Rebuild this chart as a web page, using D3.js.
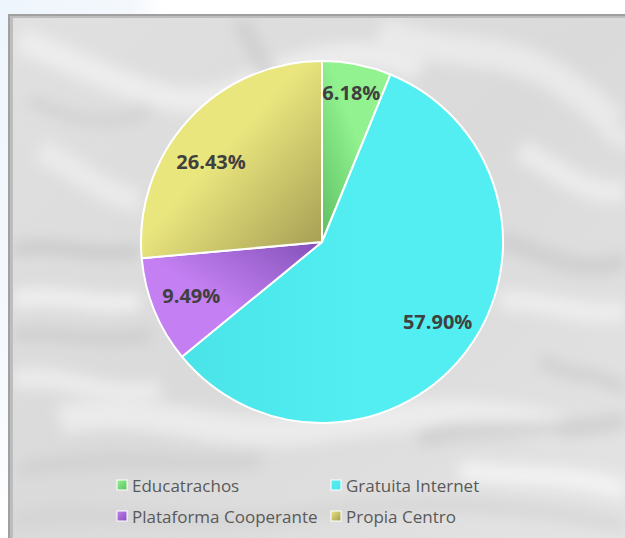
<!DOCTYPE html>
<html><head><meta charset="utf-8">
<script src="https://cdn.jsdelivr.net/npm/d3@7"></script>
<style>html,body{margin:0;padding:0;background:#fff;overflow:hidden}</style>
</head><body>
<svg id="c" width="625" height="538"></svg>
<script>
const categories = ["Educatrachos", "Gratuita Internet", "Plataforma Cooperante", "Propia Centro"];
const values = [6.18, 57.90, 9.49, 26.43];
const labels = ["6.18%", "57.90%", "9.49%", "26.43%"];
const colorsLight = ["#92f290", "#52eef2", "#c480f2", "#eae67e"];
const colorsDark = ["#5cbf62", "#4ae4e8", "#8250b8", "#a29a52"];

const svg = d3.select("#c");
const W = 625, H = 538;
const defs = svg.append("defs");

// page background hint (pale blue corner)
const pb = defs.append("linearGradient").attr("id","pb").attr("x1",0).attr("y1",0).attr("x2",0).attr("y2",1);
pb.append("stop").attr("offset",0).attr("stop-color","#eef5fc");
pb.append("stop").attr("offset",0.7).attr("stop-color","#f6f9fd");
pb.append("stop").attr("offset",1).attr("stop-color","#ffffff");
const pt = defs.append("linearGradient").attr("id","pt").attr("x1",0).attr("y1",0).attr("x2",1).attr("y2",0);
pt.append("stop").attr("offset",0).attr("stop-color","#eef5fc");
pt.append("stop").attr("offset",0.8).attr("stop-color","#f4f8fd");
pt.append("stop").attr("offset",1).attr("stop-color","#ffffff");
svg.append("rect").attr("x",0).attr("y",0).attr("width",165).attr("height",20).attr("fill","url(#pt)");
svg.append("rect").attr("x",0).attr("y",0).attr("width",10).attr("height",H).attr("fill","url(#pb)");

// frame shadow
const fx = 8, fy = 14;
svg.append("rect").attr("x",fx).attr("y",fy).attr("width",W-fx+10).attr("height",H-fy+10).attr("fill","#a0a0a0");
svg.append("rect").attr("x",fx+2).attr("y",fy+2).attr("width",W).attr("height",H).attr("fill","#bdbdbd");

// paper background
const bg = defs.append("linearGradient").attr("id","bg").attr("x1",0).attr("y1",0).attr("x2",1).attr("y2",1);
bg.append("stop").attr("offset",0).attr("stop-color","#e0e0e0");
bg.append("stop").attr("offset",0.5).attr("stop-color","#dadada");
bg.append("stop").attr("offset",1).attr("stop-color","#e4e4e4");
const ix = 13, iy = 18;
svg.append("rect").attr("x",ix).attr("y",iy).attr("width",W-ix).attr("height",H-iy).attr("fill","url(#bg)");

// crumple texture (decorative soft folds)
defs.append("filter").attr("id","blur").attr("filterUnits","userSpaceOnUse")
  .attr("x",-50).attr("y",-50).attr("width",W+100).attr("height",H+100)
  .append("feGaussianBlur").attr("stdDeviation",7);
defs.append("clipPath").attr("id","clipBg").append("rect").attr("x",ix).attr("y",iy).attr("width",W-ix).attr("height",H-iy);
const tex = svg.append("g").attr("clip-path","url(#clipBg)");
const folds = [
  {d:"M20,40 C120,80 180,120 240,90 S360,40 420,70", c:"#f0f0f0", w:26, o:0.8},
  {d:"M240,20 C270,80 300,120 280,170", c:"#c6c6c6", w:16, o:0.6},
  {d:"M380,30 C440,60 500,40 560,80 S620,140 625,130", c:"#efefef", w:30, o:0.7},
  {d:"M13,250 C60,240 90,260 140,250", c:"#c2c2c2", w:12, o:0.7},
  {d:"M13,300 C60,290 100,310 140,300", c:"#f4f4f4", w:18, o:0.8},
  {d:"M13,335 C60,330 90,345 150,335", c:"#c4c4c4", w:10, o:0.7},
  {d:"M500,240 C540,250 580,280 625,260", c:"#c6c6c6", w:18, o:0.6},
  {d:"M500,300 C550,300 590,320 625,310", c:"#f4f4f4", w:20, o:0.7},
  {d:"M60,420 C140,400 220,440 300,430 S460,400 560,430", c:"#f2f2f2", w:30, o:0.7},
  {d:"M20,470 C120,450 200,470 260,460", c:"#c8c8c8", w:14, o:0.5},
  {d:"M420,440 C480,420 540,440 625,420", c:"#c4c4c4", w:16, o:0.6},
  {d:"M460,470 C520,480 560,470 625,490", c:"#f6f6f6", w:20, o:0.8},
  {d:"M40,150 C80,170 110,200 140,200", c:"#efefef", w:24, o:0.7},
  {d:"M30,100 C70,120 110,130 150,110", c:"#c8c8c8", w:12, o:0.5},
  {d:"M520,150 C560,170 590,200 625,190", c:"#f2f2f2", w:22, o:0.7},
  {d:"M540,360 C570,380 600,370 625,390", c:"#c8c8c8", w:14, o:0.6},
  {d:"M13,380 C60,370 100,400 160,390", c:"#f2f2f2", w:20, o:0.7},
  {d:"M13,520 C100,505 200,530 300,515 S500,500 625,525", c:"#cecece", w:14, o:0.5}
];
tex.selectAll("path.fold").data(folds).join("path").attr("class","fold")
  .attr("d",d=>d.d).attr("fill","none").attr("stroke",d=>d.c).attr("stroke-width",d=>d.w)
  .attr("stroke-opacity",d=>d.o).attr("filter","url(#blur)");

// pie
const cx = 322, cy = 242, R = 181;
// gradient direction per slice (light -> dark toward pie centre)
const gradDir = [[1,0,0,1],[1,0.5,0,0.5],[0,1,1,0],[0,0,1,1]];
categories.forEach((c,i)=>{
  const d = gradDir[i];
  const g = defs.append("linearGradient").attr("id","g"+i)
    .attr("x1",d[0]).attr("y1",d[1]).attr("x2",d[2]).attr("y2",d[3]);
  g.append("stop").attr("offset",0).attr("stop-color",colorsLight[i]);
  g.append("stop").attr("offset",0.45).attr("stop-color",colorsLight[i]);
  g.append("stop").attr("offset",1).attr("stop-color",colorsDark[i]);
  const s = defs.append("linearGradient").attr("id","s"+i).attr("x1",0).attr("y1",0).attr("x2",1).attr("y2",1);
  s.append("stop").attr("offset",0).attr("stop-color",colorsLight[i]);
  s.append("stop").attr("offset",1).attr("stop-color",colorsDark[i]);
});

const pie = d3.pie().sort(null).value(d=>d);
const arcs = pie(values);
const arc = d3.arc().innerRadius(0).outerRadius(R);
const pg = svg.append("g").attr("transform",`translate(${cx},${cy})`);
pg.selectAll("path").data(arcs).join("path")
  .attr("d",arc).attr("fill",(d,i)=>`url(#g${i})`)
  .attr("stroke","#ffffff").attr("stroke-width",2).attr("stroke-linejoin","round");

// label placement: radius fraction and angular nudge (degrees)
const labelR = [0.84, 0.775, 0.78, 0.756];
const labelNudge = [0, -2, 0, -6.6];
pg.selectAll("text").data(arcs).join("text")
  .attr("transform",(d,i)=>{
    const a = (d.startAngle + d.endAngle)/2 + labelNudge[i]*Math.PI/180;
    const r = R*labelR[i];
    return `translate(${r*Math.sin(a)},${-r*Math.cos(a)})`;
  })
  .attr("text-anchor","middle").attr("dominant-baseline","central")
  .attr("font-family","'Open Sans', 'DejaVu Sans', sans-serif").attr("font-weight","bold")
  .attr("font-size",20).attr("fill","#404040")
  .text((d,i)=>labels[i]);

// legend
const legX = [117, 331], legY = [485, 516];
const lg = svg.append("g").attr("font-family","'Open Sans', 'DejaVu Sans', sans-serif").attr("font-size",17).attr("fill","#595959");
categories.forEach((c,i)=>{
  const x = legX[i%2], y = legY[Math.floor(i/2)];
  lg.append("rect").attr("x",x).attr("y",y-5).attr("width",10).attr("height",10)
    .attr("fill",`url(#s${i})`).attr("stroke","#ffffff").attr("stroke-width",1);
  lg.append("text").attr("x",x+15).attr("y",y).attr("dominant-baseline","central").text(c);
});
</script>
</body></html>
